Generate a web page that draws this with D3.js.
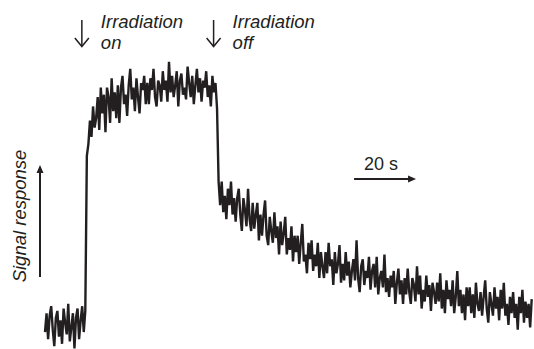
<!DOCTYPE html>
<html><head><meta charset="utf-8">
<script src="https://cdn.jsdelivr.net/npm/d3@7"></script>
<style>
html,body{margin:0;padding:0;background:#fff;}
svg{display:block;}
text{font-family:"Liberation Sans",Arial,Helvetica,sans-serif;fill:#231f20;}
</style></head>
<body>
<script>
// ---- data (time in s, signal in arbitrary units) ----
const sampleStep = 0.5;           // s between samples
const baselineStart = 0;
const baselineValues = [-3,5,-6,4,8,-2,-9,3,6,-5,2,-8,7,1,-4,9,-7,-1,5,-10,3,7,-6,2,8,-3,6];
const plateauStart = 13.5;        // irradiation on
const plateauValues = [72,77,87,80,93,84,88,97,83,101,90,98,82,101,97,86,105,91,99,88,
  102,86,101,106,94,98,89,102,109,96,101,91,105,97,90,103,100,106,94,103,
  94,105,100,109,97,93,104,102,95,108,100,104,95,112,99,106,97,102,108,93,
  104,107,98,101,96,110,103,97,106,94,102,109,99,105,95,104,101,108,97,102,
  93,106,99,103,92];
const decayStart = 56;            // irradiation off
const decayValues = [61,51,61,48,55,45,58,51,61,47,
  54,44,54,58,47,40,54,49,42,58,
  45,40,52,41,47,52,36,47,38,47,
  53,38,34,46,40,35,48,37,42,30,
  44,34,39,46,30,37,32,42,27,38,
  31,38,26,35,43,27,30,22,35,28,
  36,23,30,25,35,20,31,25,20,31,
  22,35,25,28,17,31,22,26,34,18,
  26,19,31,21,27,16,23,28,19,36,
  20,14,25,28,17,23,20,29,15,23,
  26,16,29,13,20,23,16,30,14,20,
  12,21,16,23,9,18,24,13,19,9,
  20,13,24,14,9,20,17,10,25,13,
  21,7,15,10,21,12,17,6,18,14,
  9,18,10,22,7,15,5,19,11,15,
  8,19,5,12,23,8,15,5,13,2,
  16,8,16,5,13,3,18,9,6,14,
  4,12,19,7,1,14,9,4,16,7,
  12,2,15,7,18,4,9,0,12,5,
  14,3,9,-2,12,5,15,1,10,3,
  9,-1,11];
const annotations = [
  {time: 13.5, lines: ["Irradiation","on"]},
  {time: 56, lines: ["Irradiation","off"]}
];
const scaleBar = {start: 99.7, length: 20, label: "20 s"};
const yLabel = "Signal response";

// ---- build series ----
const series = [];
baselineValues.forEach((v,i)=>series.push({t: baselineStart + i*sampleStep, v}));
plateauValues.forEach((v,i)=>series.push({t: plateauStart + i*sampleStep, v}));
decayValues.forEach((v,i)=>series.push({t: decayStart + i*sampleStep, v}));

const W = 534, H = 349, ink = "#231f20";
const svg = d3.select("body").append("svg").attr("width", W).attr("height", H);
const x = d3.scaleLinear().domain([0, 157]).range([45, 531.7]);
const y = d3.scaleLinear().domain([0, 100]).range([325, 90]);

svg.append("path").datum(series)
  .attr("fill","none").attr("stroke", ink).attr("stroke-width", 2.4)
  .attr("stroke-linejoin","miter").attr("stroke-miterlimit", 3)
  .attr("d", d3.line().x(d=>x(d.t)).y(d=>y(d.v)));

// annotation arrows and labels
annotations.forEach(a=>{
  const ax = x(a.time) - 5;
  const g = svg.append("g");
  g.append("line").attr("x1",ax).attr("x2",ax).attr("y1",20).attr("y2",46)
    .attr("stroke",ink).attr("stroke-width",1.5);
  g.append("path").attr("d",`M${ax-7},${38} L${ax},${46.5} L${ax+7},${38}`)
    .attr("fill","none").attr("stroke",ink).attr("stroke-width",1.5);
  const t = g.append("text").attr("x", ax+19).attr("y", 28)
    .attr("font-size","18.5px").attr("font-style","italic");
  a.lines.forEach((s,i)=>t.append("tspan").attr("x", ax+19).attr("dy", i===0?0:21).text(s));
});

// scale bar
const sx0 = x(scaleBar.start), sx1 = x(scaleBar.start + scaleBar.length);
svg.append("line").attr("x1",sx0).attr("x2",sx1-6).attr("y1",179).attr("y2",179)
  .attr("stroke",ink).attr("stroke-width",2);
svg.append("path").attr("d",`M${sx1},179 L${sx1-8},175.5 L${sx1-8},182.5 Z`).attr("fill",ink);
svg.append("text").attr("x", sx0+10).attr("y", 170).attr("font-size","18px").text(scaleBar.label);

// vertical signal arrow
svg.append("line").attr("x1",40).attr("x2",40).attr("y1",277).attr("y2",171)
  .attr("stroke",ink).attr("stroke-width",2);
svg.append("path").attr("d","M40,165 L36.5,173 L43.5,173 Z").attr("fill",ink);
svg.append("text").attr("transform","translate(26,216) rotate(-90)")
  .attr("text-anchor","middle").attr("font-size","18.5px").attr("font-style","italic").text(yLabel);
</script>
</body></html>
